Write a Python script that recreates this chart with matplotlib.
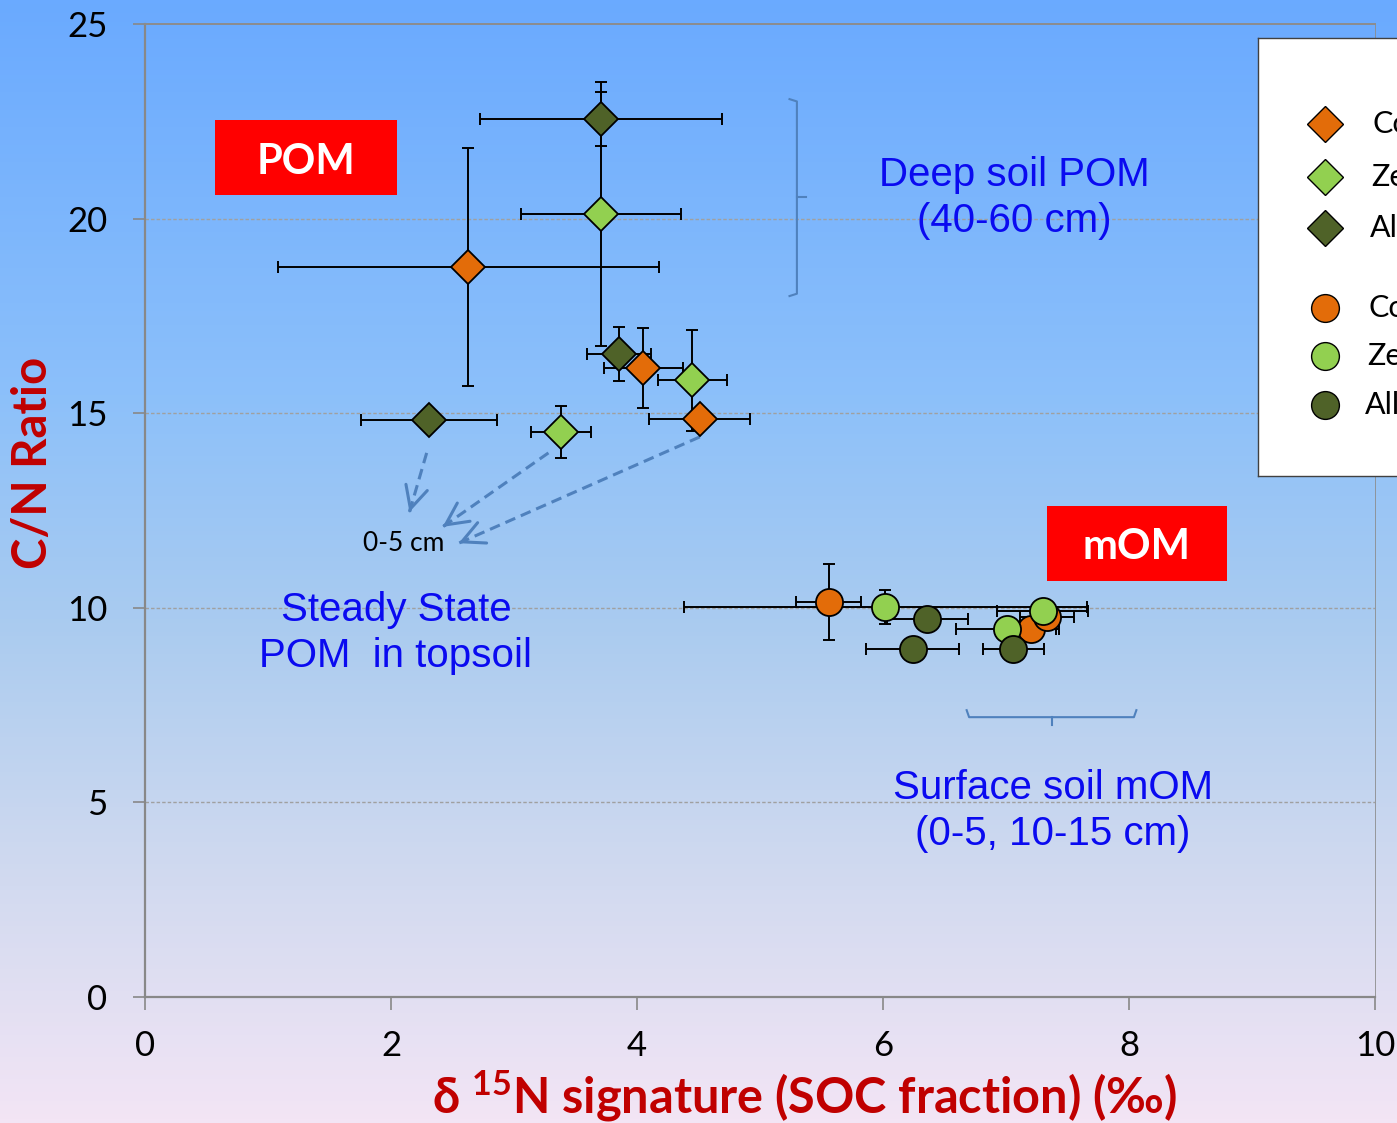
import numpy as np
import matplotlib
matplotlib.use('Agg')
import matplotlib.pyplot as plt
from matplotlib.patches import Rectangle
from matplotlib.colors import LinearSegmentedColormap

# POM (diamonds), deep soil
pom_co_x = [2.63, 4.05, 4.51]
pom_co_y = [18.76, 16.16, 14.85]
pom_co_xerr = [1.55, 0.32, 0.41]
pom_co_yerr = [3.06, 1.02, 0.15]

pom_ze_x = [3.71, 4.45, 3.38]
pom_ze_y = [20.12, 15.85, 14.52]
pom_ze_xerr = [0.65, 0.28, 0.245]
pom_ze_yerr = [3.39, 1.30, 0.66]

pom_al_x = [3.71, 3.85, 2.31]
pom_al_y = [22.56, 16.52, 14.83]
pom_al_xerr = [0.985, 0.26, 0.555]
pom_al_yerr = [0.69, 0.70, 0.0]

# mOM (circles), surface soil
mom_co_x = [5.56, 7.20, 7.33]
mom_co_y = [10.15, 9.46, 9.77]
mom_co_xerr = [0.265, 0.21, 0.22]
mom_co_yerr = [0.97, 0.10, 0.10]

mom_ze_x = [6.02, 7.01, 7.30]
mom_ze_y = [10.02, 9.46, 9.92]
mom_ze_xerr = [1.64, 0.42, 0.37]
mom_ze_yerr = [0.44, 0.0, 0.0]

mom_al_x = [6.36, 6.24, 7.06]
mom_al_y = [9.72, 8.94, 8.94]
mom_al_xerr = [0.33, 0.38, 0.25]
mom_al_yerr = [0.0, 0.0, 0.0]

x_ticks = [0, 2, 4, 6, 8, 10]
y_ticks = [0, 5, 10, 15, 20, 25]
legend_labels = ['Co', 'Ze', 'Al', 'Co', 'Ze', 'All']

ORANGE = '#e36c09'
LIGHT = '#92d050'
DARK = '#4f6228'
RED = '#c00000'
BLUE = '#0a0af0'
STEEL = '#4f81bd'

plt.rcParams['font.family'] = ['Lato', 'DejaVu Sans']

fig = plt.figure(figsize=(13.97, 11.23), dpi=100)

# background gradient
bg = fig.add_axes([0, 0, 1, 1], zorder=-10)
cmap = LinearSegmentedColormap.from_list('bg', [
    (0.0, '#6aaaff'), (0.35, '#8cc0fa'), (0.55, '#a9cbf0'),
    (0.75, '#ccd8ef'), (1.0, '#f3e5f5')])
bg.imshow(np.linspace(0, 1, 256)[:, None], aspect='auto', cmap=cmap,
          extent=[0, 1, 0, 1])
bg.set_axis_off()

ax = fig.add_axes([145 / 1397, 1 - 997 / 1123, 1230 / 1397, 973 / 1123])
ax.patch.set_alpha(0)
ax.set_xlim(0, 10)
ax.set_ylim(0, 25)
ax.set_xticks(x_ticks)
ax.set_yticks(y_ticks)
ax.tick_params(axis='both', labelsize=25, colors='#888888', labelcolor='black',
               length=9, width=1.2)
ax.tick_params(axis='y', pad=18)
ax.tick_params(axis='x', pad=15)
for s in ['left', 'bottom']:
    ax.spines[s].set_color('#888888')
    ax.spines[s].set_linewidth(1.6)
ax.spines['top'].set_color('#8c8c8c')
ax.spines['top'].set_linewidth(1.4)
ax.spines['right'].set_color('#8c8c8c')
ax.spines['right'].set_linewidth(0.6)
for yv in y_ticks[1:-1]:
    ax.axhline(yv, color='#a0a0a0', lw=1.0, ls=(0, (2.5, 1.5)), zorder=0)

groups = [
    (pom_co_x, pom_co_y, pom_co_xerr, pom_co_yerr, 'D', ORANGE),
    (pom_ze_x, pom_ze_y, pom_ze_xerr, pom_ze_yerr, 'D', LIGHT),
    (pom_al_x, pom_al_y, pom_al_xerr, pom_al_yerr, 'D', DARK),
    (mom_co_x, mom_co_y, mom_co_xerr, mom_co_yerr, 'o', ORANGE),
    (mom_ze_x, mom_ze_y, mom_ze_xerr, mom_ze_yerr, 'o', LIGHT),
    (mom_al_x, mom_al_y, mom_al_xerr, mom_al_yerr, 'o', DARK),
]
for x, y, xe, ye, m, c in groups:
    ax.errorbar(x, y, xerr=xe, yerr=ye, fmt='none', ecolor='black',
                elinewidth=1.4, capsize=4.5, capthick=1.4, zorder=2)
for x, y, xe, ye, m, c in groups:
    ax.plot(x, y, ls='none', marker=m, ms=17.5 if m == 'D' else 19.5,
            mfc=c, mec='black', mew=1.3, zorder=3)

# label boxes
ax.add_patch(Rectangle((0.57, 20.6), 1.48, 1.93, fc='#ff0000', ec='none', zorder=4))
ax.text(1.31, 21.46, 'POM', color='white', fontsize=30, fontweight='bold',
        ha='center', va='center', zorder=5)
ax.add_patch(Rectangle((7.33, 10.69), 1.47, 1.93, fc='#ff0000', ec='none', zorder=4))
ax.text(8.065, 11.55, 'mOM', color='white', fontsize=30, fontweight='bold',
        ha='center', va='center', zorder=5)

blue_font = dict(family='Liberation Sans', fontsize=29, color=BLUE,
                 ha='center', va='center', linespacing=1.25)
ax.text(7.07, 20.53, 'Deep soil POM\n(40-60 cm)', **blue_font)
ax.text(2.04, 9.35, 'Steady State\nPOM  in topsoil', **blue_font)
ax.text(7.38, 4.78, 'Surface soil mOM\n(0-5, 10-15 cm)', **blue_font)
ax.text(2.10, 11.66, '0-5 cm', fontsize=19, ha='center', va='center')

# brackets
ax.plot([5.24, 5.30, 5.30, 5.24], [23.07, 23.01, 18.07, 18.01], color=STEEL, lw=1.5)
ax.plot([5.30, 5.37], [20.55, 20.55], color=STEEL, lw=1.5)
ax.plot([6.68, 6.70, 8.04, 8.06], [7.37, 7.19, 7.19, 7.37], color=STEEL, lw=1.5)
ax.plot([7.37, 7.37], [7.19, 6.99], color=STEEL, lw=1.5)

# dashed arrows with solid open heads
arrows = [((2.29, 13.98), (2.15, 12.46)),
          ((3.28, 13.98), (2.42, 12.08)),
          ((4.51, 14.39), (2.55, 11.66))]
for start, end in arrows:
    ax.plot([start[0], end[0]], [start[1], end[1]], color=STEEL, lw=2.2,
            ls=(0, (3.5, 2)))
    near = (end[0] + 0.02 * (start[0] - end[0]), end[1] + 0.02 * (start[1] - end[1]))
    ax.annotate('', xy=end, xytext=near,
                arrowprops=dict(arrowstyle='->', color=STEEL, lw=2.2,
                                mutation_scale=40, shrinkA=0, shrinkB=0))

# axis labels
fig.text(33 / 1397, 1 - 463 / 1123, 'C/N Ratio', rotation=90, color=RED,
         fontsize=34, fontweight='bold', ha='center', va='center')
fig.text(805 / 1397, 1 - 1096 / 1123, 'δ $\\mathregular{^{15}}$N signature (SOC fraction) (‰)',
         color=RED, fontsize=35, fontweight='bold', ha='center', va='center')

# legend (cut by the figure edge, as in the original)
lg = fig.add_axes([1258 / 1397, 1 - 476 / 1123, 200 / 1397, 438 / 1123], zorder=6)
lg.set_xlim(0, 200)
lg.set_ylim(438, 0)
lg.set_xticks([])
lg.set_yticks([])
for s in lg.spines.values():
    s.set_color('#404040')
    s.set_linewidth(1)
rows = [86, 139, 190, 270, 318, 367]
colors = [ORANGE, LIGHT, DARK, ORANGE, LIGHT, DARK]
text_x = [115, 113, 112, 111, 109, 107]
for i, (ry, c, lab) in enumerate(zip(rows, colors, legend_labels)):
    m = 'D' if i < 3 else 'o'
    lg.plot([67], [ry], marker=m, ms=18.5 if m == 'D' else 20, mfc=c,
            mec='black', mew=1.0, ls='none')
    lg.text(text_x[i], ry, lab, fontsize=22, ha='left', va='center')

fig.savefig('out.png', dpi=100)
